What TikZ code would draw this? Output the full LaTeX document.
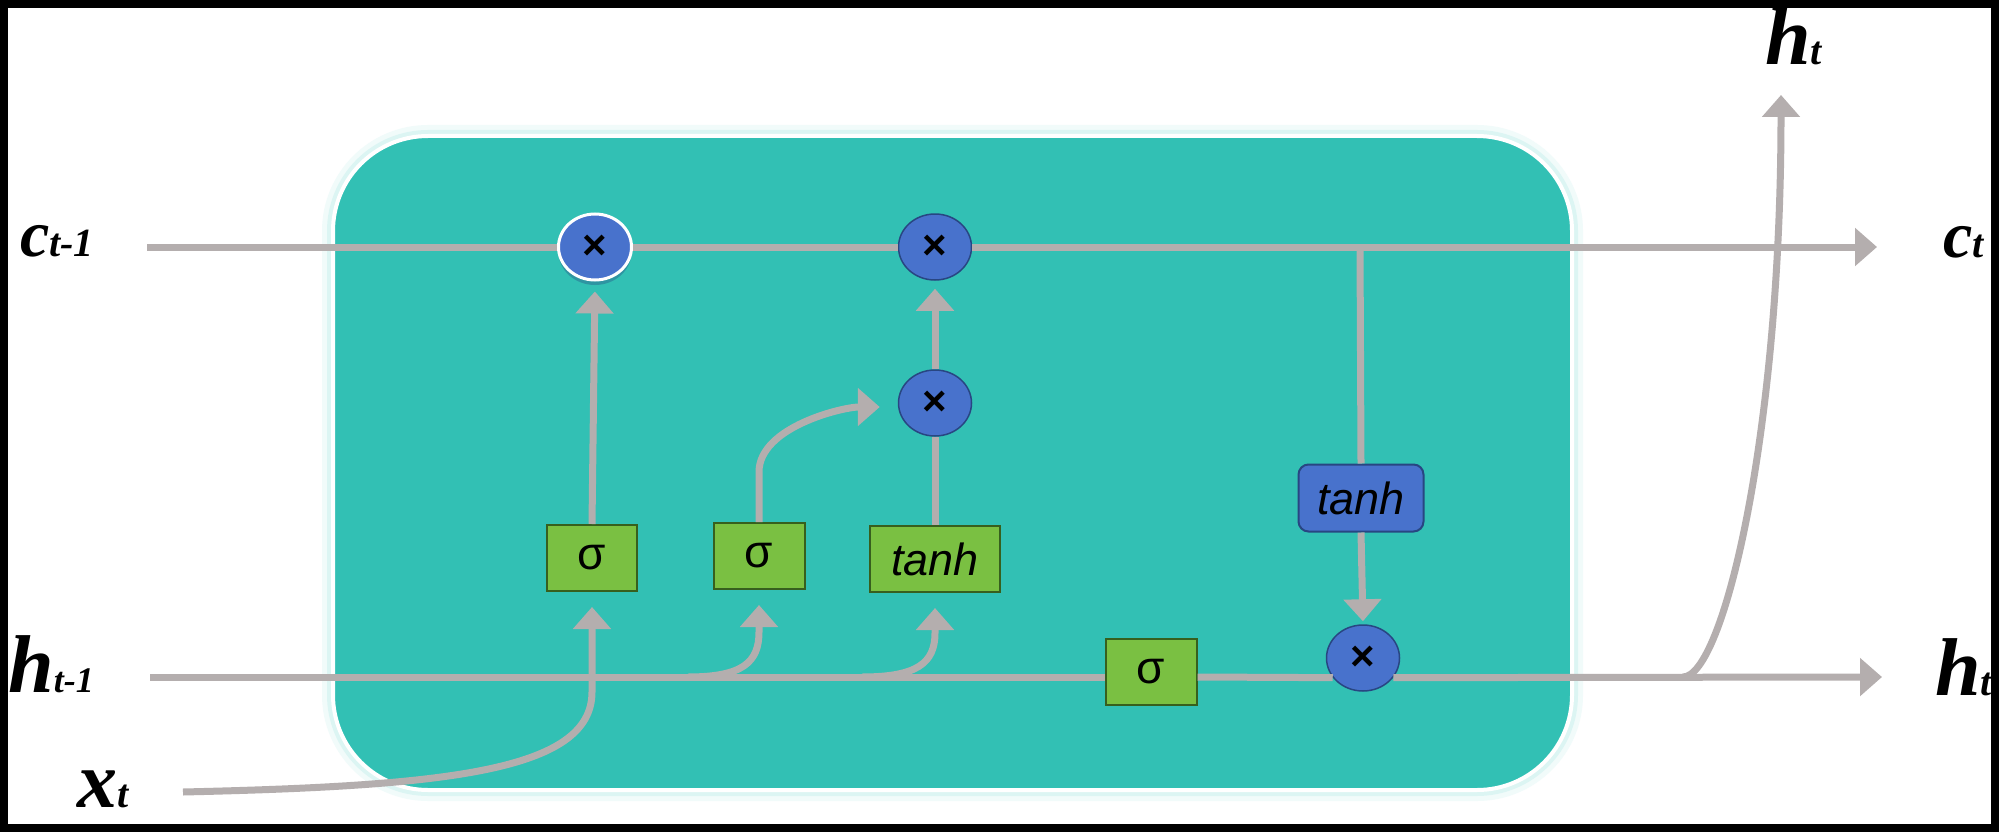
\documentclass[tikz,border=0pt]{standalone}
\usepackage{fontspec}
\setmainfont{Liberation Serif}
\newfontfamily\sansf{Liberation Sans}
\usetikzlibrary{arrows.meta,shapes.geometric,shadows,calc}
\definecolor{teal1}{RGB}{50,192,180}
\definecolor{bluec}{RGB}{72,114,204}
\definecolor{blueb}{RGB}{40,70,130}
\definecolor{greenf}{RGB}{122,192,66}
\definecolor{greenb}{RGB}{55,95,30}
\definecolor{lineg}{RGB}{180,174,174}
\definecolor{glowc}{RGB}{200,240,238}
\newcommand{\lab}[4]{{\bfseries\itshape\fontsize{#1}{#1}\selectfont #2}{\bfseries\itshape\fontsize{#3}{#3}\selectfont #4}}
\begin{document}
\begin{tikzpicture}[x=1pt,y=-1pt,
  wire/.style={draw=lineg,line width=7pt},
  arr/.style={wire,-{Triangle[length=22pt,width=37pt]}},
  mul/.style={ellipse,draw=blueb,line width=1.5pt,fill=bluec,minimum width=73pt,minimum height=66pt,inner sep=0pt,font=\sansf\bfseries\fontsize{42}{42}\selectfont},
  gbox/.style={rectangle,draw=greenb,line width=2pt,fill=greenf,minimum height=66pt,inner sep=0pt,font=\sansf\fontsize{46}{46}\selectfont},
  bbox/.style={rectangle,rounded corners=10pt,draw=blueb,line width=2pt,fill=bluec,minimum height=67pt,minimum width=125pt,inner sep=0pt,font=\sansf\itshape\fontsize{45}{45}\selectfont},
  lbl/.style={anchor=base west,inner sep=0pt}
]
\useasboundingbox (0,0) rectangle (1999,832);
\fill[white] (0,0) rectangle (1999,832);
% cell
\draw[glowc, line width=22pt, opacity=0.25, rounded corners=95pt] (333,136) rectangle (1572,790);
\draw[glowc, line width=12pt, opacity=0.5, rounded corners=95pt] (333,136) rectangle (1572,790);
\draw[white, line width=4pt, fill=teal1, rounded corners=95pt] (333,136) rectangle (1572,790);

% nodes
\node[mul, draw=white, line width=3pt, drop shadow={shadow xshift=0pt,shadow yshift=-5pt,opacity=0.35,fill=blueb}] (m1) at (595,247) {×};
\node[mul] (m2) at (935,247) {×};
\node[mul] (m3) at (935,403) {×};
\node[mul] (m4) at (1363,658) {×};
\node[gbox, minimum width=90pt] (s1) at (592,558) {σ};
\node[gbox, minimum width=91pt] (s2) at (759,556) {σ};
\node[gbox, minimum width=130pt, font=\sansf\itshape\fontsize{45}{45}\selectfont] (t1) at (935,559) {tanh};
\node[bbox] (t2) at (1361,498) {tanh};
\node[gbox, minimum width=91pt] (s3) at (1151,672) {σ};

% labels
\node[lbl] (cin) at (20,256) {\lab{66}{c}{40}{t-1}};
\node[lbl] (hin) at (8,692) {\lab{82}{h}{36}{t-1}};
\node[lbl] (xin) at (77,807) {\lab{80}{x}{40}{t}};
\node[lbl] (hout1) at (1765,65) {\lab{82}{h}{40}{t}};
\node[lbl] (cout) at (1943,257) {\lab{66}{c}{40}{t}};
\node[lbl] (hout2) at (1935,695) {\lab{82}{h}{40}{t}};

% coordinates
\coordinate (cs) at (147,247);
\coordinate (ce) at (1877,247);
\coordinate (hs) at (150,677);
\coordinate (he) at (1882,677);
\coordinate (xs) at (183,792);
\coordinate (cbr) at (1360,247);
\coordinate (b1) at (688,677);
\coordinate (b2) at (862,677);
\coordinate (hj) at (1683,677);
\coordinate (htip) at (1781,95);

% connectors
\draw[wire] (cs) -- (m1.west);
\draw[wire] (m1.east) -- (m2.west);
\draw[arr] (m2.east) -- (ce);
\draw[wire] (cbr) -- (t2.north);
\draw[arr, shorten >=3pt] (t2.south) -- (m4.north);
\draw[arr, shorten >=10pt] (s1.north) -- (m1.south);
\draw[arr, shorten >=18pt] (s2.north) -- ++(0,-50) .. controls +(0,-45) and +(-55,0) .. ([yshift=-4pt]m3.west);
\draw[wire] (t1.north) -- (m3.south);
\draw[arr, shorten >=8pt] (m3.north) -- (m2.south);
\draw[wire] (hs) -- (s3.west |- hs);
\draw[wire] (s3.east |- hs) -- (m4.213);
\draw[arr] (m4.327) -- (he);
\draw[arr, shorten >=15pt] (xs) .. controls +(260,-6) and +(0,80) .. ($(s1.south)+(0,100)$) -- (s1.south);
\draw[arr, shorten >=15pt] (b1) .. controls +(55,0) and +(0,30) .. ($(s2.south)+(0,42)$) -- (s2.south);
\draw[arr, shorten >=15pt] (b2) .. controls +(55,0) and +(0,30) .. ($(t1.south)+(0,40)$) -- (t1.south);
\draw[arr] (hj) .. controls +(40,0) and +(0,340) .. (htip);

% frame
\draw[black, line width=8pt] (4,4) rectangle (1995,828);
\end{tikzpicture}
\end{document}
